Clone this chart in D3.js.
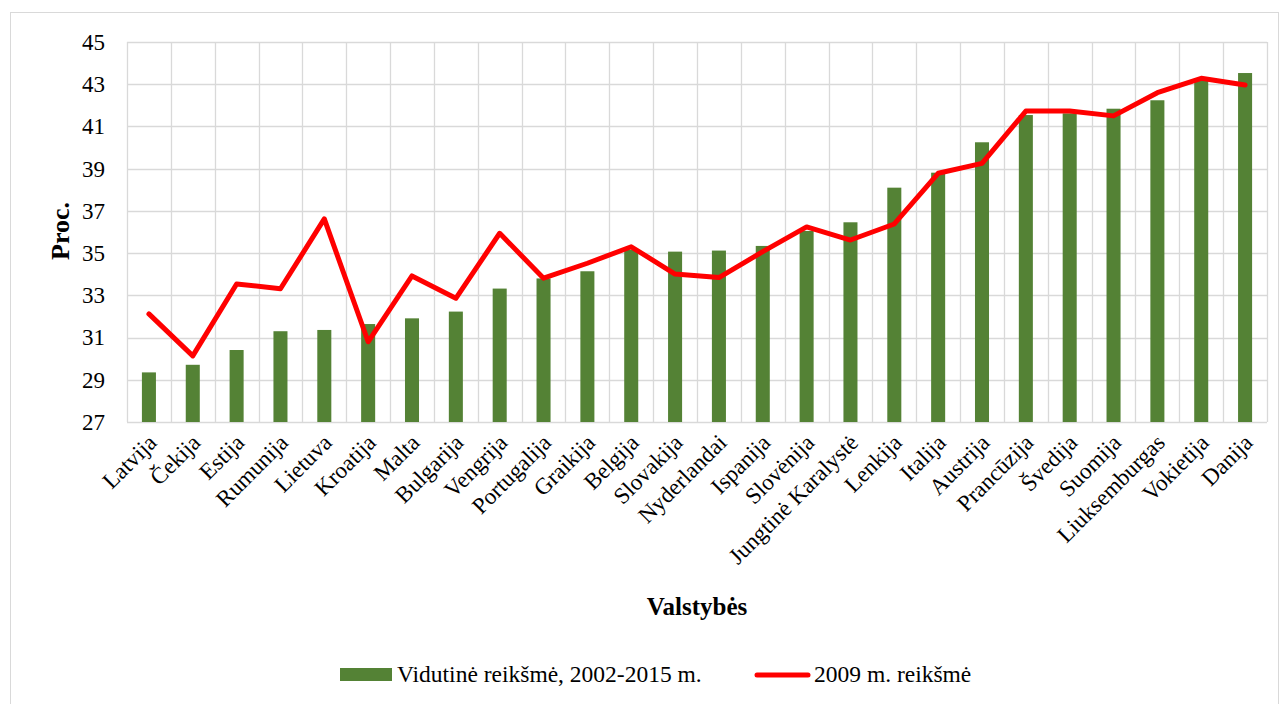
<!DOCTYPE html>
<html>
<head>
<meta charset="utf-8">
<script src="https://cdn.jsdelivr.net/npm/d3@7"></script>
<style>
  body { margin: 0; background: #fff; }
  svg { display: block; font-family: "Times New Roman", "Liberation Serif", serif; }
</style>
</head>
<body>
<svg id="chart" width="1285" height="704"></svg>
<script>
// countries, ordered by the average value
const countries = ["Latvija", "Čekija", "Estija", "Rumunija", "Lietuva", "Kroatija", "Malta",
    "Bulgarija", "Vengrija", "Portugalija", "Graikija", "Belgija", "Slovakija", "Nyderlandai",
    "Ispanija", "Slovėnija", "Jungtinė Karalystė", "Lenkija", "Italija", "Austrija",
    "Prancūzija", "Švedija", "Suomija", "Liuksemburgas", "Vokietija", "Danija"];

// average 2002-2015 (bars)
const averageValues = [29.35, 29.71, 30.41, 31.30, 31.36, 31.64, 31.91,
    32.23, 33.32, 33.80, 34.14, 35.15, 35.07, 35.12,
    35.34, 36.05, 36.46, 38.10, 38.81, 40.25,
    41.54, 41.62, 41.84, 42.24, 43.20, 43.53];

// 2009 value (line)
const values2009 = [32.12, 30.13, 33.54, 33.31, 36.62, 30.80, 33.92,
    32.86, 35.94, 33.81, 34.52, 35.30, 34.01, 33.84,
    35.07, 36.24, 35.62, 36.38, 38.78, 39.25,
    41.73, 41.73, 41.50, 42.60, 43.28, 42.96];

const yTicks = [27, 29, 31, 33, 35, 37, 39, 41, 43, 45];

const legendLabels = ["Vidutinė reikšmė, 2002-2015 m.", "2009 m. reikšmė"];

const barColor = "#548235";
const lineColor = "#ff0000";
const gridColor = "#d9d9d9";
const serif = "'Times New Roman', 'Liberation Serif', serif";

const svg = d3.select("#chart");

// plot area
const plot = {left: 127, right: 1267, top: 42, bottom: 422};

// outer chart border
svg.append("rect")
    .attr("x", 10.5)
    .attr("y", 12.5)
    .attr("width", 1268)
    .attr("height", 700)
    .attr("fill", "none")
    .attr("stroke", gridColor)
    .attr("stroke-width", 1);

var x = d3.scaleBand()
    .domain(countries)
    .range([plot.left, plot.right])
    .padding(0);

var y = d3.scaleLinear()
    .domain([27, 45])
    .range([plot.bottom, plot.top]);

const barWidth = x.bandwidth() * 0.32;

// horizontal gridlines
svg.append("g")
    .selectAll("line")
    .data(yTicks)
    .enter()
    .append("line")
    .attr("x1", plot.left)
    .attr("x2", plot.right)
    .attr("y1", d => Math.round(y(d)) + 0.5)
    .attr("y2", d => Math.round(y(d)) + 0.5)
    .attr("stroke", gridColor)
    .attr("stroke-width", 1.3);

// vertical gridlines, at band boundaries
var boundaries = countries.map(c => x(c)).concat([plot.right]);
svg.append("g")
    .selectAll("line")
    .data(boundaries)
    .enter()
    .append("line")
    .attr("x1", d => Math.round(d) + 0.5)
    .attr("x2", d => Math.round(d) + 0.5)
    .attr("y1", plot.top)
    .attr("y2", plot.bottom)
    .attr("stroke", gridColor)
    .attr("stroke-width", 1.3);

// bars
svg.append("g")
    .selectAll("rect")
    .data(countries)
    .enter()
    .append("rect")
    .attr("x", (c) => x(c) + (x.bandwidth() - barWidth) / 2)
    .attr("y", (c, i) => y(averageValues[i]))
    .attr("width", barWidth)
    .attr("height", (c, i) => plot.bottom - y(averageValues[i]))
    .attr("fill", barColor);

// line
var line = d3.line()
    .x((d, i) => x(countries[i]) + x.bandwidth() / 2)
    .y(d => y(d));

svg.append("path")
    .datum(values2009)
    .attr("d", line)
    .attr("fill", "none")
    .attr("stroke", lineColor)
    .attr("stroke-width", 5)
    .attr("stroke-linejoin", "round")
    .attr("stroke-linecap", "round");

// y axis (labels only)
var yAxis = svg.append("g")
    .attr("transform", "translate(" + plot.left + ",0)")
    .call(d3.axisLeft(y).tickValues(yTicks).tickSize(0).tickPadding(22));
yAxis.select(".domain").remove();
yAxis.selectAll("text")
    .attr("font-family", serif)
    .attr("font-size", 23)
    .attr("fill", "#000");

// x axis (rotated labels)
var xAxis = svg.append("g")
    .attr("transform", "translate(0," + plot.bottom + ")")
    .call(d3.axisBottom(x).tickSize(0));
xAxis.select(".domain").remove();
xAxis.selectAll("text")
    .attr("font-family", serif)
    .attr("font-size", 23)
    .attr("fill", "#000")
    .attr("text-anchor", "end")
    .attr("y", 0)
    .attr("dy", null)
    .attr("transform", "translate(9,22) rotate(-45)");

// axis titles
svg.append("text")
    .attr("transform", "translate(69,231) rotate(-90)")
    .attr("text-anchor", "middle")
    .attr("font-size", 26)
    .attr("font-weight", "bold")
    .text("Proc.");

svg.append("text")
    .attr("x", (plot.left + plot.right) / 2)
    .attr("y", 615)
    .attr("text-anchor", "middle")
    .attr("font-size", 25)
    .attr("font-weight", "bold")
    .text("Valstybės");

// legend
var legend = svg.append("g");
legend.append("rect")
    .attr("x", 340)
    .attr("y", 668)
    .attr("width", 52)
    .attr("height", 13)
    .attr("fill", barColor);
legend.append("text")
    .attr("x", 397)
    .attr("y", 682)
    .attr("font-size", 23.5)
    .text(legendLabels[0]);
legend.append("line")
    .attr("x1", 757)
    .attr("x2", 808)
    .attr("y1", 675)
    .attr("y2", 675)
    .attr("stroke", lineColor)
    .attr("stroke-width", 5)
    .attr("stroke-linecap", "round");
legend.append("text")
    .attr("x", 814)
    .attr("y", 682)
    .attr("font-size", 23.5)
    .text(legendLabels[1]);
</script>
</body>
</html>
